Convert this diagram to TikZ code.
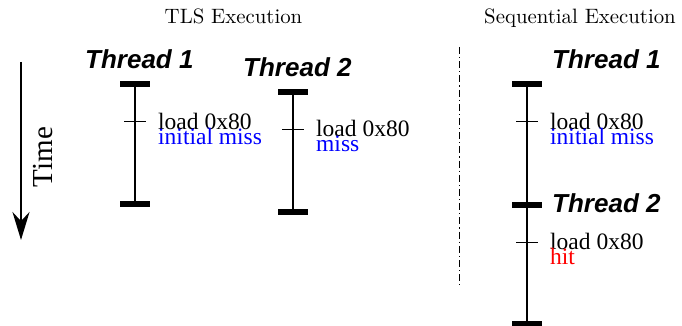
\documentclass[tikz,border=0pt]{standalone}
\usepackage{fontspec}
\usetikzlibrary{arrows.meta}
\newfontfamily\serifT{Liberation Serif}
\newfontfamily\sansH{Liberation Sans}
\newfontfamily\lmten{lmroman10-regular}[Extension=.otf]
\definecolor{missblue}{RGB}{0,0,255}
\definecolor{hitred}{RGB}{255,0,0}
\begin{document}
\begin{tikzpicture}[x=1pt,y=-1pt,
  title/.style={font=\lmten\fontsize{20.8}{25}\selectfont, anchor=base, inner sep=0},
  thread/.style={font=\sansH\bfseries\itshape\fontsize{26}{30}\selectfont, anchor=base west, inner sep=0},
  load/.style={font=\serifT\fontsize{23.5}{27}\selectfont, anchor=base west, inner sep=0},
  bar/.style={line width=2.6pt},
  barcap/.style={line width=5.5pt},
  tickmark/.style={line width=1pt}]
\useasboundingbox (0,0) rectangle (682,326);

% section titles
\node[title] (tlstitle) at (233.5,24) {TLS Execution};
\node[title] (seqtitle) at (580,24) {Sequential Execution};

% time axis
\coordinate (t0) at (21,62);
\coordinate (t1) at (21,240);
\draw[line width=2.5pt, -{Stealth[length=28pt,width=17pt]}] (t0) -- (t1);
\node[rotate=90, font=\serifT\fontsize{29}{33}\selectfont, inner sep=0] (time) at (43,157) {Time};

% TLS: thread 1
\coordinate (a1top) at (135,84);
\coordinate (a1bot) at (135,204);
\coordinate (a1ld) at (135,122);
\draw[bar] (a1top) -- (a1bot);
\draw[barcap] ([xshift=-15pt]a1top) -- ([xshift=15pt]a1top);
\draw[barcap] ([xshift=-15pt]a1bot) -- ([xshift=15pt]a1bot);
\draw[tickmark] ([xshift=-11pt]a1ld) -- ([xshift=11pt]a1ld);
\node[thread] (a1name) at (85,69) {Thread 1};
\node[load] (a1load) at (158,129) {load 0x80};
\node[load, text=missblue] (a1res) at (158,144) {initial miss};

% TLS: thread 2
\coordinate (a2top) at (293,92);
\coordinate (a2bot) at (293,212);
\coordinate (a2ld) at (293,129);
\draw[bar] (a2top) -- (a2bot);
\draw[barcap] ([xshift=-15pt]a2top) -- ([xshift=15pt]a2top);
\draw[barcap] ([xshift=-15pt]a2bot) -- ([xshift=15pt]a2bot);
\draw[tickmark] ([xshift=-11pt]a2ld) -- ([xshift=11pt]a2ld);
\node[thread] (a2name) at (243,77) {Thread 2};
\node[load] (a2load) at (316,136) {load 0x80};
\node[load, text=missblue] (a2res) at (316,151) {miss};

% separator
\coordinate (s0) at (459,47);
\coordinate (s1) at (459,287);
\draw[line width=1pt, dash pattern=on 7pt off 3pt on 1.2pt off 3pt] (s0) -- (s1);

% sequential: both threads on one line
\coordinate (btop) at (527,84);
\coordinate (bmid) at (527,205);
\coordinate (bbot) at (527,324);
\coordinate (b1ld) at (527,122);
\coordinate (b2ld) at (527,242);
\draw[bar] (btop) -- (bbot);
\draw[barcap] ([xshift=-15pt]btop) -- ([xshift=15pt]btop);
\draw[barcap] ([xshift=-15pt]bmid) -- ([xshift=15pt]bmid);
\draw[barcap] ([xshift=-15pt]bbot) -- ([xshift=15pt]bbot);
\draw[tickmark] ([xshift=-11pt]b1ld) -- ([xshift=11pt]b1ld);
\draw[tickmark] ([xshift=-11pt]b2ld) -- ([xshift=11pt]b2ld);
\node[thread] (b1name) at (552,69) {Thread 1};
\node[thread] (b2name) at (552,212) {Thread 2};
\node[load] (b1load) at (550,129) {load 0x80};
\node[load, text=missblue] (b1res) at (550,144) {initial miss};
\node[load] (b2load) at (550,249) {load 0x80};
\node[load, text=hitred] (b2res) at (550,264) {hit};
\end{tikzpicture}
\end{document}
